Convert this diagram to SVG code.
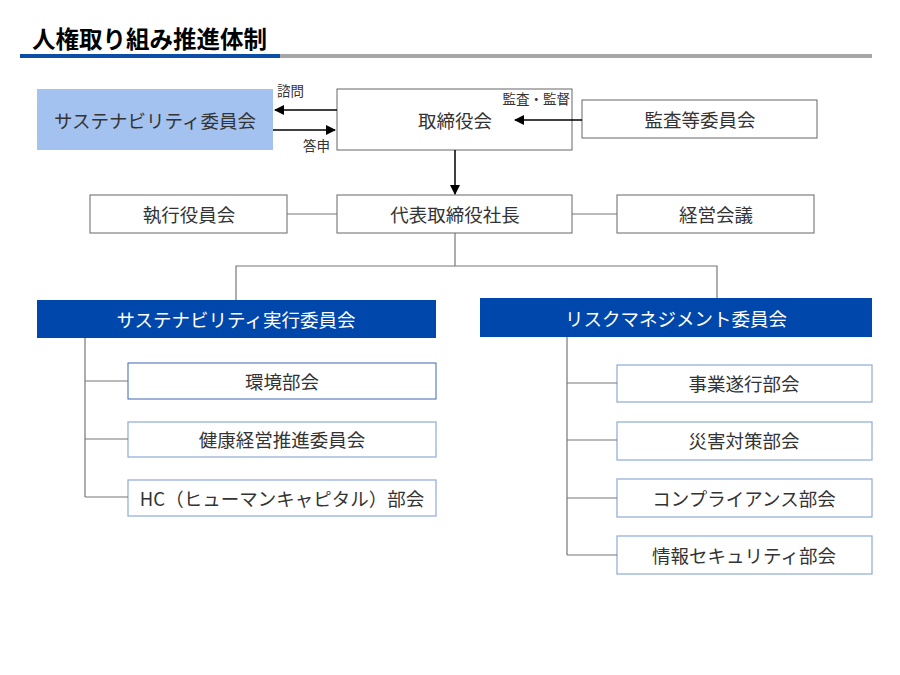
<svg xmlns="http://www.w3.org/2000/svg" width="900" height="675" viewBox="0 0 900 675">
<defs>
<style>
text{font-family:"Noto Sans CJK JP","Noto Sans",sans-serif;fill:#333;}
.t{font-size:18.5px;text-anchor:middle;dominant-baseline:central;}
.s{font-size:13.5px;}
.w{fill:#fff;}
.box{fill:#fff;stroke:#666;stroke-width:1;}
.sub1{fill:#fff;stroke:#3d67b0;stroke-width:1;}
.sub{fill:#fff;stroke:#8eaad8;stroke-width:1.2;}
.ln{stroke:#777;stroke-width:1.2;fill:none;}
.ar{stroke:#000;stroke-width:1.5;fill:none;marker-end:url(#ah);}
</style>
<marker id="ah" viewBox="0 0 10 10" refX="9" refY="5" markerWidth="10" markerHeight="10" markerUnits="userSpaceOnUse" orient="auto"><path d="M0,0L10,5L0,10z" fill="#000"/></marker>
</defs>
<rect width="900" height="675" fill="#fff"/>
<g id="title">
<text x="32" y="48" style="font-size:23.5px;font-weight:bold;fill:#000">人権取り組み推進体制</text>
<rect x="20" y="54" width="260" height="4" fill="#0a4ea8"/>
<rect x="280" y="54" width="592" height="4" fill="#a6a6a6"/>
</g>
<g id="sustainability-committee">
<rect x="37" y="89" width="236" height="61" fill="#a4c2f0"/>
<text class="t" x="155" y="120">サステナビリティ委員会</text>
</g>
<g id="board">
<rect class="box" x="337" y="89" width="235" height="61"/>
<text class="t" x="455" y="120">取締役会</text>
<text class="s" x="570" y="104" text-anchor="end">監査・監督</text>
</g>
<g id="audit-committee">
<rect class="box" x="582" y="100" width="235" height="38"/>
<text class="t" x="700" y="119">監査等委員会</text>
</g>
<g id="exec-officers">
<rect class="box" x="90" y="195" width="197" height="38"/>
<text class="t" x="189" y="214">執行役員会</text>
</g>
<g id="president">
<rect class="box" x="337" y="195" width="235" height="38"/>
<text class="t" x="455" y="214">代表取締役社長</text>
</g>
<g id="management-meeting">
<rect class="box" x="617" y="195" width="197" height="38"/>
<text class="t" x="716" y="214">経営会議</text>
</g>
<g id="sustainability-exec">
<rect x="37" y="300" width="399" height="38" fill="#0047ab"/>
<text class="t w" x="236" y="319">サステナビリティ実行委員会</text>
</g>
<g id="risk-committee">
<rect x="480" y="298" width="392" height="39" fill="#0047ab"/>
<text class="t w" x="676" y="318">リスクマネジメント委員会</text>
</g>
<g id="environment">
<rect class="sub1" x="128" y="363" width="308" height="36"/>
<text class="t" x="282" y="381">環境部会</text>
</g>
<g id="health">
<rect class="sub" x="128" y="422" width="308" height="35"/>
<text class="t" x="282" y="439">健康経営推進委員会</text>
</g>
<g id="hc">
<rect class="sub" x="128" y="480" width="308" height="36"/>
<text class="t" x="282" y="498">HC（ヒューマンキャピタル）部会</text>
</g>
<g id="business">
<rect class="sub" x="617" y="365" width="255" height="37"/>
<text class="t" x="744" y="383">事業遂行部会</text>
</g>
<g id="disaster">
<rect class="sub" x="617" y="422" width="255" height="38"/>
<text class="t" x="744" y="440">災害対策部会</text>
</g>
<g id="compliance">
<rect class="sub" x="617" y="479" width="255" height="38"/>
<text class="t" x="744" y="498">コンプライアンス部会</text>
</g>
<g id="infosec">
<rect class="sub" x="617" y="536" width="255" height="38"/>
<text class="t" x="744" y="555">情報セキュリティ部会</text>
</g>
<g id="connectors">
<path class="ar" d="M337,110H275"/>
<path class="ar" d="M273,130H335"/>
<path class="ar" d="M582,120H515"/>
<path class="ar" d="M455,150V194"/>
<path class="ln" d="M287,214H337M572,214H617"/>
<path class="ln" d="M455,233V266M236,300V266H717V298"/>
<path class="ln" d="M85,338V497M85,381H128M85,439H128M85,497H128"/>
<path class="ln" d="M567,337V555M567,383H617M567,440H617M567,498H617M567,555H617"/>
<text class="s" x="277" y="96">諮問</text>
<text class="s" x="303" y="151">答申</text>
</g>
</svg>
